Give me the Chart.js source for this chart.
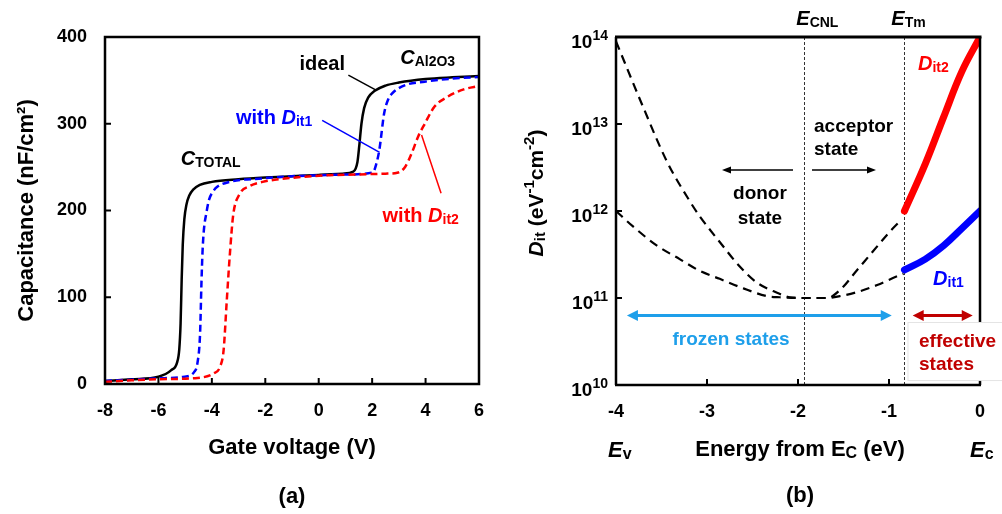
<!DOCTYPE html>
<html><head><meta charset="utf-8">
<script src="https://cdn.jsdelivr.net/npm/chart.js@4.4.1/dist/chart.umd.min.js"></script>
<style>
html,body{margin:0;padding:0;background:#fff;}
#wrap{position:relative;width:1002px;height:514px;overflow:hidden;background:#fff;}
#c1{position:absolute;left:0;top:0;}
#c2{position:absolute;left:500px;top:0;}
</style></head><body>
<div id="wrap">
<canvas id="c1" width="500" height="514"></canvas>
<canvas id="c2" width="502" height="514"></canvas>
</div>
<script>
const F = "'Liberation Sans', Arial, Helvetica, sans-serif";

// ---------- panel (a): C-V curves ----------
const gateTickValues = [-8, -6, -4, -2, 0, 2, 4, 6];
const gateTickLabels = ['-8', '-6', '-4', '-2', '0', '2', '4', '6'];
const capTickValues = [0, 100, 200, 300, 400];
const capTickLabels = ['0', '100', '200', '300', '400'];

const idealV = [-8, -7, -6, -5.52, -5.3, -5.22, -5.17, -5.13, -5.09, -5.03, -4.95, -4.85, -4.7, -4.45, -4.0, -3, -2, -1, 0, 0.9, 1.3, 1.45, 1.52, 1.6, 1.7, 1.85, 2.1, 2.5, 3, 4, 5, 6];
const idealC = [3.5, 5.5, 8.4, 16, 25, 40, 70, 120, 160, 190, 207, 217, 224, 229.5, 233, 236, 238, 239.5, 241, 242.5, 245, 256, 275, 300, 318, 330, 338, 344, 347.5, 351.5, 353.5, 355];

const dit1V = [-8, -7, -6, -5.03, -4.66, -4.54, -4.44, -4.39, -4.35, -4.3, -4.2, -4.11, -3.95, -3.81, -3.33, -2.1, -1, 0, 1, 2.03, 2.15, 2.27, 2.45, 2.6, 2.75, 3.24, 3.97, 5, 6];
const dit1C = [3.5, 5, 6.5, 8.4, 14, 24, 59, 116, 152, 177, 198, 212, 222, 227, 233, 237, 239.5, 240.5, 241.5, 244, 253, 270, 312, 328, 335, 344.5, 348.5, 352, 354];

const dit2V = [-8, -7, -6, -4.54, -3.93, -3.69, -3.56, -3.44, -3.32, -3.2, -2.96, -2.6, -2.1, -1.5, 0.3, 1.5, 2.5, 2.94, 3.24, 3.48, 3.72, 3.97, 4.33, 4.82, 5.43, 6];
const dit2C = [2.5, 4.3, 5.5, 7, 12.3, 20, 39, 97, 152, 195, 219, 228, 233, 236, 240.5, 241.5, 242.5, 243.5, 250.5, 266, 285, 300, 319.6, 331, 339.6, 343.5];

// ---------- panel (b): Dit distribution ----------
const energyTickValues = [-4, -3, -2, -1, 0];
const energyTickLabels = ['-4', '-3', '-2', '-1', '0'];
const ditTickValues = [1e10, 1e11, 1e12, 1e13, 1e14];
const ditTickExponents = ['10', '11', '12', '13', '14'];

const steepE = [-4, -3.7, -3.44, -3.19, -3.08, -2.86, -2.64, -2.45, -2.23, -2.09, -1.93, -1.68, -1.54, -1.35, -1.18, -0.99, -0.86];
const steepD = [8.9e13, 1.55e13, 3.7e12, 1.3e12, 8.7e11, 4.4e11, 2.3e11, 1.5e11, 1.15e11, 1.02e11, 1.0e11, 1.0e11, 1.23e11, 2.1e11, 3.4e11, 5.8e11, 8.0e11];

const shallowE = [-4, -3.81, -3.55, -3.3, -3.08, -2.86, -2.6, -2.34, -2.2, -1.93, -1.7, -1.54, -1.35, -1.13, -0.91, -0.84];
const shallowD = [1.0e12, 6.6e11, 4.0e11, 2.8e11, 2.05e11, 1.66e11, 1.29e11, 1.05e11, 1.02e11, 1.0e11, 1.0e11, 1.05e11, 1.17e11, 1.41e11, 1.78e11, 1.9e11];

const dit2E = [-0.83, -0.6, -0.4, -0.2, 0];
const dit2D = [1.0e12, 3.5e12, 1.2e13, 4.0e13, 1.0e14];
const dit1E = [-0.83, -0.6, -0.4, -0.2, 0];
const dit1D = [2.1e11, 2.8e11, 4.0e11, 6.3e11, 1.0e12];

const cnlE = -1.93;
const tmE = -0.83;

// ---------- helpers ----------
const toXY = (xs, ys) => xs.map((x, i) => ({x: x, y: ys[i]}));

function rich(ctx, x, y, parts, size, color, align, rot) {
  ctx.save();
  ctx.translate(x, y);
  if (rot) ctx.rotate(rot);
  const sm = Math.round(size * 0.72);
  const fontOf = p => (p.i ? 'italic ' : '') + 'bold ' + ((p.sub || p.sup) ? sm : size) + 'px ' + F;
  let w = 0;
  parts.forEach(p => { ctx.font = fontOf(p); w += ctx.measureText(p.t).width; });
  let cx = align === 'center' ? -w / 2 : (align === 'right' ? -w : 0);
  const base = size * 0.36;
  ctx.fillStyle = color; ctx.textAlign = 'left'; ctx.textBaseline = 'alphabetic';
  parts.forEach(p => {
    ctx.font = fontOf(p);
    const dy = p.sub ? size * 0.1 : (p.sup ? -size * 0.42 : 0);
    ctx.fillText(p.t, cx, base + dy);
    cx += ctx.measureText(p.t).width;
  });
  ctx.restore();
}

function line(ctx, x1, y1, x2, y2, color, lw) {
  ctx.save(); ctx.strokeStyle = color; ctx.lineWidth = lw; ctx.beginPath();
  ctx.moveTo(x1, y1); ctx.lineTo(x2, y2); ctx.stroke(); ctx.restore();
}

function head(ctx, tipX, y, dir, len, hw, color) {
  ctx.save(); ctx.fillStyle = color; ctx.beginPath();
  ctx.moveTo(tipX, y); ctx.lineTo(tipX - dir * len, y - hw); ctx.lineTo(tipX - dir * len, y + hw);
  ctx.closePath(); ctx.fill(); ctx.restore();
}

function hArrow(ctx, x1, x2, y, color, lw, len, hw, both) {
  const dir = x2 > x1 ? 1 : -1;
  line(ctx, both ? x1 + dir * len * 0.8 : x1, y, x2 - dir * len * 0.8, y, color, lw);
  head(ctx, x2, y, dir, len, hw, color);
  if (both) head(ctx, x1, y, -dir, len, hw, color);
}

function frameBox(ctx, a, lw) {
  ctx.save(); ctx.strokeStyle = '#000'; ctx.lineWidth = lw;
  ctx.strokeRect(a.left, a.top, a.right - a.left, a.bottom - a.top); ctx.restore();
}

const baseScale = {
  grid: {display: false, drawTicks: false},
  border: {display: false}
};

// ---------- panel (a) ----------
const leftPlugin = {
  id: 'leftDeco',
  afterDatasetsDraw(chart) {
    const {ctx, chartArea: a, scales: {x, y}} = chart;
    frameBox(ctx, a, 2.5);
    ctx.save(); ctx.strokeStyle = '#000'; ctx.lineWidth = 2;
    gateTickValues.forEach(v => { const px = x.getPixelForValue(v); ctx.beginPath(); ctx.moveTo(px, a.bottom); ctx.lineTo(px, a.bottom - 6); ctx.stroke(); });
    capTickValues.forEach(v => { const py = y.getPixelForValue(v); ctx.beginPath(); ctx.moveTo(a.left, py); ctx.lineTo(a.left + 6, py); ctx.stroke(); });
    ctx.restore();
    const P = (vx, vy) => [x.getPixelForValue(vx), y.getPixelForValue(vy)];
    // leader lines
    let p1 = P(1.11, 356), p2 = P(2.13, 339); line(ctx, p1[0], p1[1], p2[0], p2[1], '#000', 1.5);
    p1 = P(0.13, 304); p2 = P(2.28, 267); line(ctx, p1[0], p1[1], p2[0], p2[1], '#0000FF', 1.5);
    p1 = P(4.58, 220); p2 = P(3.85, 287); line(ctx, p1[0], p1[1], p2[0], p2[1], '#FF0000', 1.5);
    // labels
    let t = P(0.13, 370); rich(ctx, t[0], t[1], [{t: 'ideal'}], 20, '#000', 'center');
    t = P(3.05, 377); rich(ctx, t[0], t[1], [{t: 'C', i: 1}, {t: 'Al2O3', sub: 1}], 20, '#000', 'left');
    t = P(-3.1, 308); rich(ctx, t[0], t[1], [{t: 'with '}, {t: 'D', i: 1}, {t: 'it1', sub: 1}], 20, '#0000FF', 'left');
    t = P(-5.16, 260.5); rich(ctx, t[0], t[1], [{t: 'C', i: 1}, {t: 'TOTAL', sub: 1}], 20, '#000', 'left');
    t = P(2.39, 195); rich(ctx, t[0], t[1], [{t: 'with '}, {t: 'D', i: 1}, {t: 'it2', sub: 1}], 20, '#FF0000', 'left');
    rich(ctx, (a.left + a.right) / 2, 495, [{t: '(a)'}], 22, '#000', 'center');
  }
};

new Chart(document.getElementById('c1'), {
  type: 'line',
  data: {datasets: [
    {data: toXY(dit2V, dit2C), borderColor: '#FF0000', borderWidth: 2.5, borderDash: [7, 4]},
    {data: toXY(dit1V, dit1C), borderColor: '#0000FF', borderWidth: 2.5, borderDash: [7, 4]},
    {data: toXY(idealV, idealC), borderColor: '#000000', borderWidth: 2.5}
  ]},
  options: {
    responsive: false, animation: false, events: [],
    plugins: {legend: {display: false}, tooltip: {enabled: false}},
    layout: {padding: {left: 0, right: 11, top: 37, bottom: 0}},
    elements: {point: {radius: 0}, line: {cubicInterpolationMode: 'monotone', fill: false}},
    scales: {
      x: Object.assign({}, baseScale, {
        type: 'linear', min: -8, max: 6,
        afterBuildTicks: s => { s.ticks = gateTickValues.map(v => ({value: v})); },
        afterFit: s => { s.height = 130; },
        ticks: {font: {family: F, size: 18, weight: 'bold'}, color: '#000', padding: 16, maxRotation: 0, autoSkip: false,
          callback: (v, i) => gateTickLabels[i]},
        title: {display: true, text: 'Gate voltage (V)', color: '#000', font: {family: F, size: 22, weight: 'bold'}, padding: {top: 0, bottom: 52.8}}
      }),
      y: Object.assign({}, baseScale, {
        type: 'linear', min: 0, max: 400,
        afterBuildTicks: s => { s.ticks = capTickValues.map(v => ({value: v})); },
        afterFit: s => { s.width = 105; },
        ticks: {font: {family: F, size: 18, weight: 'bold'}, color: '#000', padding: 18, autoSkip: false,
          callback: (v, i) => capTickLabels[i]},
        title: {display: true, text: 'Capacitance (nF/cm\u00B2)', color: '#000', font: {family: F, size: 22, weight: 'bold'}, padding: {top: 13.8, bottom: 0}}
      })
    }
  },
  plugins: [leftPlugin]
});

// ---------- panel (b) ----------
const rightPlugin = {
  id: 'rightDeco',
  beforeDatasetsDraw(chart) {
    const {ctx, chartArea: a, scales: {x}} = chart;
    ctx.save(); ctx.strokeStyle = '#333'; ctx.lineWidth = 1; ctx.setLineDash([3, 2]);
    [cnlE, tmE].forEach(e => { const px = Math.round(x.getPixelForValue(e)) + 0.5; ctx.beginPath(); ctx.moveTo(px, a.top); ctx.lineTo(px, a.bottom); ctx.stroke(); });
    ctx.restore();
  },
  afterDatasetsDraw(chart) {
    const {ctx, chartArea: a, scales: {x, y}} = chart;
    // frame
    line(ctx, a.left - 1, a.top, a.right + 1.5, a.top, '#000', 3);
    line(ctx, a.left, a.top, a.left, a.bottom, '#000', 2.5);
    line(ctx, a.left - 1, a.bottom, a.right + 1, a.bottom, '#000', 2.5);
    line(ctx, a.right, a.top, a.right, a.bottom, '#000', 2.5);
    // inward ticks
    ctx.save(); ctx.strokeStyle = '#000'; ctx.lineWidth = 2;
    energyTickValues.forEach(v => { const px = x.getPixelForValue(v); ctx.beginPath(); ctx.moveTo(px, a.bottom); ctx.lineTo(px, a.bottom - 6); ctx.stroke(); });
    ditTickValues.forEach(v => { const py = y.getPixelForValue(v); ctx.beginPath(); ctx.moveTo(a.left, py); ctx.lineTo(a.left + 6, py); ctx.stroke(); });
    ctx.restore();
    // y tick labels 10^n
    ditTickValues.forEach((v, i) => {
      rich(ctx, a.left - 8, y.getPixelForValue(v) + 4, [{t: '10'}, {t: ditTickExponents[i], sup: 1}], 19, '#000', 'right');
    });
    const P = (vx, vy) => [x.getPixelForValue(vx), y.getPixelForValue(vy)];
    // reference level labels
    const pc = x.getPixelForValue(cnlE), pt = x.getPixelForValue(tmE);
    rich(ctx, pc + 13, a.top - 19, [{t: 'E', i: 1}, {t: 'CNL', sub: 1}], 20, '#000', 'center');
    rich(ctx, pt + 4, a.top - 19, [{t: 'E', i: 1}, {t: 'Tm', sub: 1}], 20, '#000', 'center');
    // donor / acceptor arrows and texts
    const ay = y.getPixelForValue(2.96e12);
    hArrow(ctx, x.getPixelForValue(-2.055), x.getPixelForValue(-2.835), ay, '#000', 1.5, 9, 3.5, false);
    hArrow(ctx, x.getPixelForValue(-1.846), x.getPixelForValue(-1.143), ay, '#000', 1.5, 9, 3.5, false);
    let t = P(-2.418, 1.65e12); rich(ctx, t[0], t[1], [{t: 'donor'}], 19, '#000', 'center');
    t = P(-2.418, 8.5e11); rich(ctx, t[0], t[1], [{t: 'state'}], 19, '#000', 'center');
    t = P(-1.824, 9.8e12); rich(ctx, t[0], t[1], [{t: 'acceptor'}], 19, '#000', 'left');
    t = P(-1.824, 5.3e12); rich(ctx, t[0], t[1], [{t: 'state'}], 19, '#000', 'left');
    // Dit labels
    t = P(-0.681, 5.0e13); rich(ctx, t[0], t[1], [{t: 'D', i: 1}, {t: 'it2', sub: 1}], 20, '#FF0000', 'left');
    t = P(-0.516, 1.7e11); rich(ctx, t[0], t[1], [{t: 'D', i: 1}, {t: 'it1', sub: 1}], 20, '#0000FF', 'left');
    // frozen states
    const fy = y.getPixelForValue(6.3e10);
    hArrow(ctx, x.getPixelForValue(-3.88), x.getPixelForValue(-0.97), fy, '#1E9FEA', 3, 11, 5.5, true);
    t = P(-2.736, 3.47e10); rich(ctx, t[0], t[1], [{t: 'frozen states'}], 19, '#1E9FEA', 'center');
    // effective states box
    const bx = x.getPixelForValue(-0.797), by1 = y.getPixelForValue(5.3e10), by2 = y.getPixelForValue(1.14e10);
    ctx.save(); ctx.fillStyle = '#fff'; ctx.fillRect(bx, by1, chart.width - bx + 2, by2 - by1);
    ctx.strokeStyle = '#e4e4e4'; ctx.lineWidth = 1; ctx.strokeRect(bx + 0.5, by1 + 0.5, chart.width - bx + 2, by2 - by1); ctx.restore();
    hArrow(ctx, x.getPixelForValue(-0.74), x.getPixelForValue(-0.08), fy, '#C00000', 3, 11, 5.5, true);
    t = P(-0.67, 3.3e10); rich(ctx, t[0], t[1], [{t: 'effective'}], 19, '#C00000', 'left');
    t = P(-0.67, 1.8e10); rich(ctx, t[0], t[1], [{t: 'states'}], 19, '#C00000', 'left');
    // axis title and band edge labels
    rich(ctx, (a.left + a.right) / 2 + 2, 448, [{t: 'Energy from E'}, {t: 'C', sub: 1}, {t: ' (eV)'}], 22, '#000', 'center');
    rich(ctx, x.getPixelForValue(-4) - 8, 449, [{t: 'E', i: 1}, {t: 'v', sub: 1}], 22, '#000', 'left');
    rich(ctx, x.getPixelForValue(0) - 10, 449, [{t: 'E', i: 1}, {t: 'c', sub: 1}], 22, '#000', 'left');
    rich(ctx, 35, 193, [{t: 'D', i: 1}, {t: 'it', sub: 1}, {t: ' (eV'}, {t: '-1', sup: 1}, {t: 'cm'}, {t: '-2', sup: 1}, {t: ')'}], 21, '#000', 'center', -Math.PI / 2);
    rich(ctx, (a.left + a.right) / 2 + 2, 494, [{t: '(b)'}], 22, '#000', 'center');
  }
};

new Chart(document.getElementById('c2'), {
  type: 'line',
  data: {datasets: [
    {data: toXY(steepE, steepD), borderColor: '#000', borderWidth: 2.2, borderDash: [9, 6]},
    {data: toXY(shallowE, shallowD), borderColor: '#000', borderWidth: 2.2, borderDash: [9, 6]},
    {data: toXY(dit2E, dit2D), borderColor: '#FF0000', borderWidth: 7, borderCapStyle: 'round', cubicInterpolationMode: 'default', tension: 0.4},
    {data: toXY(dit1E, dit1D), borderColor: '#0000FF', borderWidth: 7, borderCapStyle: 'round', cubicInterpolationMode: 'default', tension: 0.4}
  ]},
  options: {
    responsive: false, animation: false, events: [],
    plugins: {legend: {display: false}, tooltip: {enabled: false}},
    layout: {padding: {left: 0, right: 22, top: 37, bottom: 0}},
    elements: {point: {radius: 0}, line: {cubicInterpolationMode: 'monotone', fill: false}},
    scales: {
      x: Object.assign({}, baseScale, {
        type: 'linear', min: -4, max: 0,
        afterBuildTicks: s => { s.ticks = energyTickValues.map(v => ({value: v})); },
        afterFit: s => { s.height = 129; },
        ticks: {font: {family: F, size: 18, weight: 'bold'}, color: '#000', padding: 16, maxRotation: 0, autoSkip: false,
          callback: (v, i) => energyTickLabels[i]}
      }),
      y: Object.assign({}, baseScale, {
        type: 'logarithmic', min: 1e10, max: 1e14,
        afterBuildTicks: s => { s.ticks = ditTickValues.map(v => ({value: v})); },
        afterFit: s => { s.width = 116; },
        ticks: {display: false}
      })
    }
  },
  plugins: [rightPlugin]
});
</script>
</body></html>
